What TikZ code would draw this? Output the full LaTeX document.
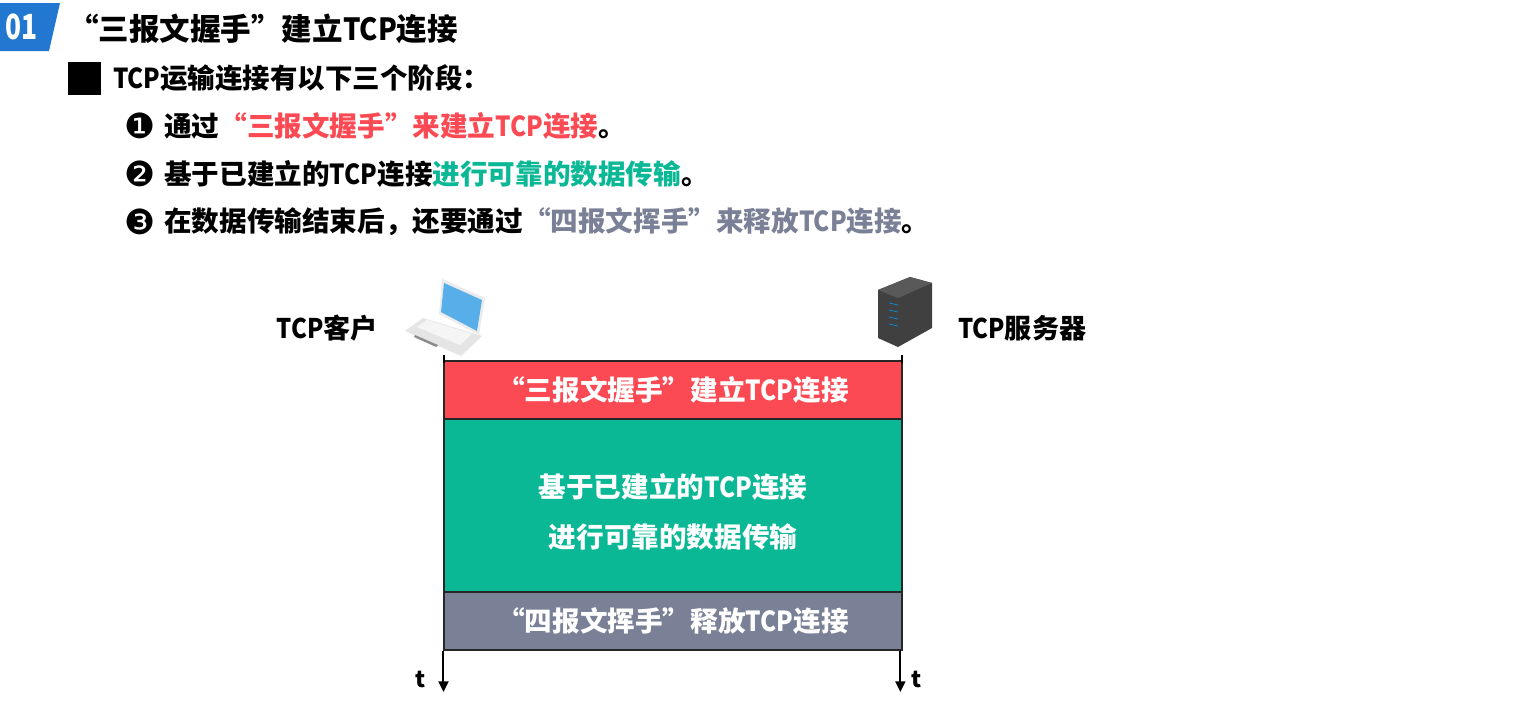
\documentclass[tikz,border=0pt]{standalone}
\usepackage{fontspec}
\usepackage{graphicx}
\usepackage{xcolor}
\setmainfont{Noto Sans CJK SC}
\newfontfamily\symfont{DejaVu Sans}
\usetikzlibrary{arrows.meta,positioning}
\definecolor{tagblue}{HTML}{2277D0}
\definecolor{shakered}{HTML}{FB4A53}
\definecolor{datagreen}{HTML}{0BB896}
\definecolor{wavegray}{HTML}{7A8096}
\definecolor{screenblue}{HTML}{58AEE8}
\newcommand{\tcpword}{\scalebox{0.88}[1]{TCP}}
\begin{document}
\begin{tikzpicture}[
  x=0.75pt, y=-0.75pt,
  title/.style={anchor=west, inner sep=0pt, font=\bfseries\fontsize{22.9}{26}\selectfont},
  heading/.style={anchor=west, inner sep=0pt, font=\bfseries\fontsize{20.6}{24}\selectfont},
  point/.style={anchor=west, inner sep=0pt, font=\bfseries\fontsize{20.7}{24}\selectfont},
  bullet/.style={anchor=center, inner sep=0pt, font=\symfont\fontsize{26}{28}\selectfont},
  endpoint/.style={inner sep=0pt, font=\bfseries\fontsize{20.3}{24}\selectfont},
  phase/.style={draw=black!85, line width=1.6pt, minimum width=343.5pt, inner sep=0pt,
    text=white, align=center, font=\bfseries\fontsize{20.7}{37.5}\selectfont},
  caption/.style={inner sep=0pt, text=white, align=center, font=\bfseries\fontsize{20.7}{37.5}\selectfont},
  life/.style={-{Triangle[length=8pt,width=7.5pt]}, black, line width=1.5pt},
  tick/.style={inner sep=0pt, font=\bfseries\fontsize{17}{20}\selectfont}
]
  \useasboundingbox (0,0) rectangle (1522,722);

  % Header
  \fill[tagblue] (0,3) -- (60,3) -- (49,51) -- (0,51) -- cycle;
  \node[inner sep=0pt, text=white, font=\bfseries\fontsize{26}{28}\selectfont] (tag) at (21.5,27) {\scalebox{0.76}[1]{01}};
  \node[title] (title) at (68,29) {“三报文握手”建立{\scalebox{0.9}[1]{TCP}}连接};

  % Stages
  \node[draw=black, fill=black, minimum size=24pt, inner sep=0pt] (square) at (84.5,78.5) {};
  \node[heading, right=9pt of square] (intro) {\tcpword 运输连接有以下三个阶段：};
  \node[bullet] (one) at (140.5,126) {❶};
  \node[bullet, below=36pt of one.center, anchor=center] (two) {❷};
  \node[bullet, below=36pt of two.center, anchor=center] (three) {❸};
  \node[point] (first) at (164,126) {通过{\color{shakered}“三报文握手”来建立\tcpword 连接}。};
  \node[point] (second) at (164,174) {基于已建立的\tcpword 连接{\color{datagreen}进行可靠的数据传输}。};
  \node[point] (third) at (164,222) {在数据传输结束后，还要通过{\color{wavegray}“四报文挥手”来释放\tcpword 连接}。};

  % Phases
  \node[phase, fill=shakered, minimum height=43.5pt] (open) at (673,390) {“三报文握手”建立\tcpword 连接};
  \node[phase, fill=datagreen, minimum height=130pt, below=-1.6pt of open] (transfer) {};
  \node[caption] (transfertext) at ([yshift=-4.5pt]transfer.center) {基于已建立的\tcpword 连接\\进行可靠的数据传输};
  \node[phase, fill=wavegray, minimum height=43.5pt, below=-1.6pt of transfer] (release) {“四报文挥手”释放\tcpword 连接};

  % Time lines
  \coordinate (clienttop) at ([xshift=0.8pt,yshift=4pt]open.north west);
  \coordinate (clientbase) at ([xshift=0.4pt]release.south west);
  \coordinate (clientend) at (clientbase |- 0,692);
  \coordinate (servertop) at ([xshift=-0.8pt,yshift=4pt]open.north east);
  \coordinate (serverbase) at ([xshift=-2pt]release.south east);
  \coordinate (serverend) at (serverbase |- 0,692);
  \draw[black, line width=1.6pt] (clienttop) -- ++(0,8);
  \draw[black, line width=1.6pt] (servertop) -- ++(0,8);
  \draw[life] (clientbase) -- (clientend);
  \draw[life] (serverbase) -- (serverend);
  \node[tick] (tleft) at (421,679) {t};
  \node[tick] (tright) at (917,679) {t};

  % Laptop
  \fill[black!10] (423,318) -- (482,336) -- (461,356) -- (405,331) -- cycle;
  \fill[black!4] (427,320) -- (472,334) -- (460,345) -- (417,327) -- cycle;
  \fill[black!45] (415,335) -- (438,345) -- (436,347) -- (414,337) -- cycle;
  \fill[black!8] (442,279) -- (485,298) -- (479,335) -- (439,314) -- cycle;
  \fill[screenblue] (444,283) -- (482,300) -- (477,331) -- (441,312) -- cycle;
  \node[endpoint, anchor=east] (client) at (378,328) {\tcpword 客户};

  % Server
  \fill[black!75] (878,290) -- (910,277) -- (932,283) -- (932,328) -- (898,347) -- (878,338) -- cycle;
  \fill[black!65] (878,290) -- (910,277) -- (932,283) -- (898,298) -- cycle;
  \foreach \y in {303,310,317,324} {
    \draw[cyan!70!blue, line width=0.6pt] (889,\y) -- (898,\y+2);
  }
  \node[endpoint, anchor=west] (server) at (958,328) {\tcpword 服务器};
\end{tikzpicture}
\end{document}
